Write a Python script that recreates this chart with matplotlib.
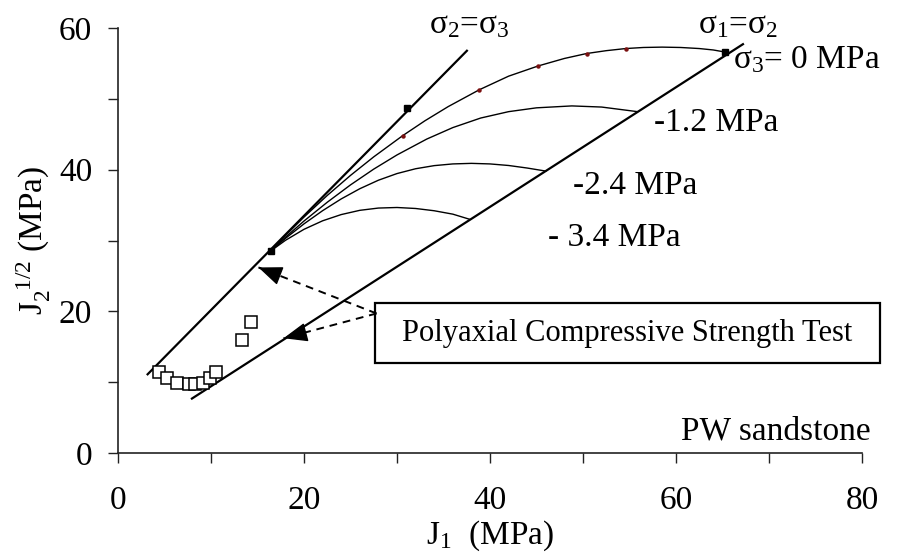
import matplotlib
matplotlib.use("Agg")
import matplotlib.pyplot as plt
from matplotlib.patches import Rectangle
from matplotlib.ticker import MultipleLocator

plt.rcParams['font.family'] = ['Liberation Serif', 'DejaVu Serif']
plt.rcParams['mathtext.fontset'] = 'custom'
plt.rcParams['mathtext.rm'] = 'Liberation Serif'
plt.rcParams['mathtext.it'] = 'Liberation Serif:italic'
plt.rcParams['mathtext.bf'] = 'Liberation Serif:bold'

# ---- data ----
# meridian lines
comp_x = [3.1, 37.6]          # sigma2 = sigma3
comp_y = [11.0, 56.9]
ext_x = [7.85, 67.3]          # sigma1 = sigma2
ext_y = [7.6, 57.8]

# strength envelopes for sigma3 levels
c0_x = [16.4, 18, 20, 22.5, 25, 27.5, 30.6, 33, 35.5, 38.85, 42, 45.2, 48, 50.4, 52.5, 54.6, 56.5, 58.5, 60.5, 62.5, 64, 65.3]
c0_y = [28.5, 30.71, 33.31, 36.36, 39.19, 41.81, 44.79, 46.9, 48.9, 51.28, 53.2, 54.65, 55.7, 56.4, 56.8, 57.1, 57.25, 57.3, 57.25, 57.1, 56.9, 56.6]
c12_x = [16.4, 18, 20, 22.5, 25, 27.5, 30, 33.2, 36, 39, 42, 45, 48.8, 52, 55.8]
c12_y = [28.5, 30.45, 32.75, 35.4, 37.85, 40.08, 42.08, 44.32, 45.94, 47.29, 48.19, 48.73, 49.0, 48.84, 48.2]
c24_x = [16.4, 18, 20, 22, 24, 26, 28, 30, 32, 34, 36, 38, 40, 42, 44, 46]
c24_y = [28.5, 30.29, 32.35, 34.21, 35.87, 37.31, 38.51, 39.45, 40.13, 40.57, 40.81, 40.89, 40.81, 40.59, 40.23, 39.8]
c34_x = [16.4, 18, 20, 22, 24, 26, 28, 30, 32, 34, 36, 37.8]
c34_y = [28.5, 30.02, 31.58, 32.78, 33.66, 34.26, 34.58, 34.66, 34.52, 34.2, 33.72, 33.0]

# markers
filled_x = [16.4, 31.1, 65.3]
filled_y = [28.5, 48.7, 56.6]
dot_x = [30.6, 38.85, 45.2, 50.4, 54.6]
dot_y = [44.8, 51.3, 54.6, 56.4, 57.1]

# polyaxial compressive strength test data
test_x = [4.44, 5.24, 6.38, 7.67, 8.28, 9.10, 9.89, 10.54, 13.33, 14.27]
test_y = [11.48, 10.55, 9.93, 9.75, 9.70, 9.93, 10.55, 11.48, 15.9, 18.5]

# arrows (tips and common start)
arrow_start = (27.8, 19.7)
arrow_tips_x = [15.1, 17.8]
arrow_tips_y = [26.2, 16.2]

x_ticks = [0, 20, 40, 60, 80]
y_ticks = [0, 20, 40, 60]

# ---- figure ----
fig = plt.figure(figsize=(9.06, 5.58), dpi=100)
ax = fig.add_axes([118/906, 1-453/558, 744/906, 425/558])
ax.set_xlim(0, 80)
ax.set_ylim(0, 60)

ax.plot(comp_x, comp_y, color='black', lw=1.6, solid_capstyle='butt')
ax.plot(ext_x, ext_y, color='black', lw=1.6, solid_capstyle='butt')
for cx, cy in [(c0_x, c0_y), (c12_x, c12_y), (c24_x, c24_y), (c34_x, c34_y)]:
    ax.plot(cx, cy, color='black', lw=1.0)

ax.plot(dot_x, dot_y, ls='none', marker='o', ms=2.2, color='#7a1010')
ax.plot(filled_x, filled_y, ls='none', marker='s', ms=5, color='black')
ax.plot(test_x, test_y, ls='none', marker='s', ms=9, mfc='white', mec='black', mew=1.1)

for tx, ty in zip(arrow_tips_x, arrow_tips_y):
    sx, sy = arrow_start
    ax.plot([sx, tx], [sy, ty], color='black', lw=1.4, ls=(0, (4, 3)))
    near = (tx + 0.02 * (sx - tx), ty + 0.02 * (sy - ty))
    ax.annotate('', xy=(tx, ty), xytext=near,
                arrowprops=dict(arrowstyle='-|>,head_length=0.75,head_width=0.3',
                                lw=1.0, color='black', shrinkA=0, shrinkB=0,
                                mutation_scale=20))

fs = 24
ax.text(37.8, 60.4, r'$\mathrm{\sigma_2}$=$\mathrm{\sigma_3}$', fontsize=fs, ha='center', va='center')
ax.text(66.7, 60.5, r'$\mathrm{\sigma_1}$=$\mathrm{\sigma_2}$', fontsize=fs, ha='center', va='center')
ax.text(66.1, 55.5, r'$\mathrm{\sigma_3}$= 0 MPa', fontsize=fs, ha='left', va='center')
ax.text(57.6, 46.6, '-1.2 MPa', fontsize=fs, ha='left', va='center')
ax.text(48.9, 37.8, '-2.4 MPa', fontsize=fs, ha='left', va='center')
ax.text(46.2, 30.4, '- 3.4 MPa', fontsize=fs, ha='left', va='center')
ax.text(80.9, 3.0, 'PW sandstone', fontsize=fs, ha='right', va='center')

# annotation box
fig.add_artist(Rectangle((375/906, 1-363/558), 505/906, 60/558, transform=fig.transFigure,
                         fill=False, lw=1.6, ec='black'))
fig.text((375+252.5)/906, 1-333/558, 'Polyaxial Compressive Strength Test', fontsize=22,
         ha='center', va='center')

# axes styling
for s in ['top', 'right']:
    ax.spines[s].set_visible(False)
for s in ['left', 'bottom']:
    ax.spines[s].set_linewidth(1.2)
    ax.spines[s].set_color('#222222')
ax.set_xticks(x_ticks)
ax.set_yticks(y_ticks)
ax.xaxis.set_minor_locator(MultipleLocator(10))
ax.yaxis.set_minor_locator(MultipleLocator(10))
ax.tick_params(which='both', direction='out', length=7.5, width=1.0, color='#222222',
               labelsize=fs)
ax.tick_params(axis='x', which='both', pad=16)
ax.tick_params(axis='y', which='both', pad=11)
ax.set_xlabel(r'$\mathrm{J}_{\mathrm{1}}$  (MPa)', fontsize=fs)
ax.set_ylabel(r'$\mathrm{J}_{\mathrm{2}}^{\mathrm{\ \ 1/2}}$ (MPa)', fontsize=fs)
ax.yaxis.set_label_coords(-0.088, 0.5)
ax.xaxis.set_label_coords(0.5, -0.155)

fig.savefig('out.png', dpi=100)
